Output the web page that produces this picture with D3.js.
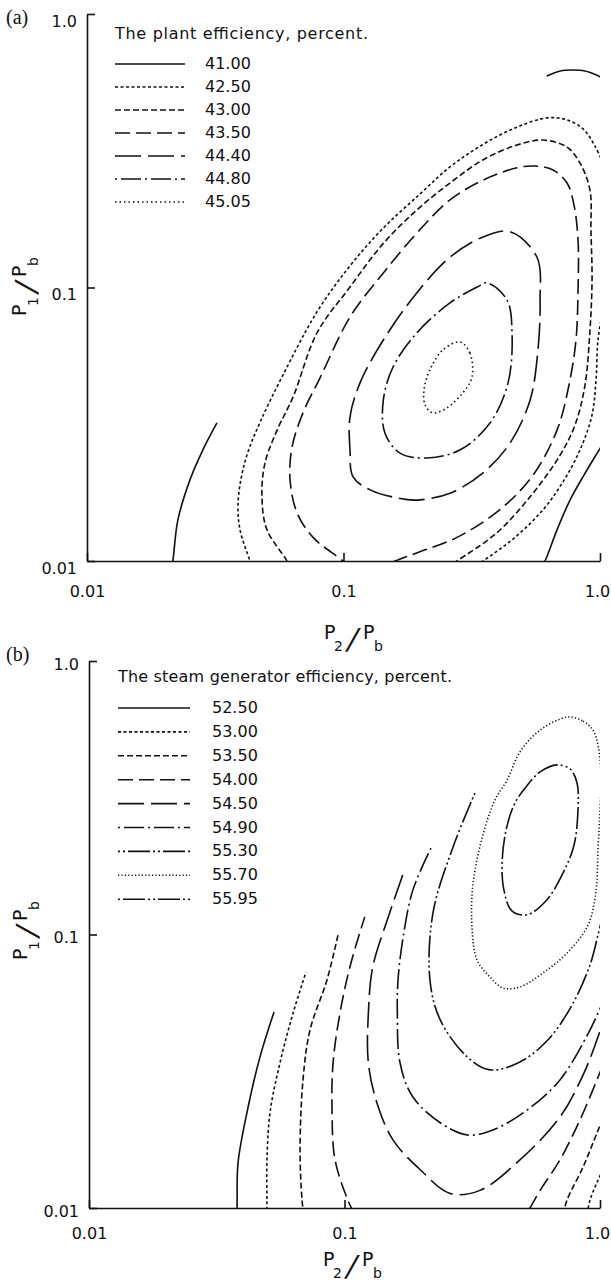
<!DOCTYPE html>
<html>
<head>
<meta charset="utf-8">
<script src="https://cdnjs.cloudflare.com/ajax/libs/d3/7.8.5/d3.min.js"></script>
<style>
  body { margin: 0; background: #fff; }
  svg { display: block; }
  text { font-family: "DejaVu Sans", sans-serif; fill: #111; }
  .contour { fill: none; stroke: #111; stroke-width: 1.6; }
  .axis path, .axis line { stroke: #111; stroke-width: 1.6; }
  .tag { font-family: "Liberation Serif", serif; font-size: 20px; }
</style>
</head>
<body>
<div id="chart"></div>
<script>
// ticks, same on both axes of both panels
var tickValues = [0.01, 0.1, 1.0]
var tickLabels = ['0.01', '0.1', '1.0']

// (a) plant efficiency levels, percent
var plantLevels = ['41.00', '42.50', '43.00', '43.50', '44.40', '44.80', '45.05']
// (b) steam generator efficiency levels, percent
var steamLevels = ['52.50', '53.00', '53.50', '54.00', '54.50', '54.90', '55.30', '55.70', '55.95']

// contour lines, points are [P2/Pb, P1/Pb]
var plant4100a = [[0.0212,0.0093],[0.0216,0.01],[0.0226,0.0141],[0.0252,0.0198],[0.0283,0.0255],[0.0321,0.032]]
var plant4100b = [[0.583,0.0093],[0.61,0.01],[0.68,0.013],[0.764,0.0167],[0.866,0.0206],[0.98,0.025],[1.03,0.027]]
var plant4100c = [[0.62,0.593],[0.70,0.619],[0.78,0.624],[0.874,0.619],[0.973,0.597],[1.03,0.58]]
var plant4250a = [[0.0444,0.0093],[0.0432,0.01],[0.0395,0.013],[0.0388,0.016],[0.0399,0.0201],[0.0424,0.025],[0.0473,0.0322],[0.0581,0.0479],[0.0788,0.0814],[0.106,0.120],[0.143,0.165],[0.199,0.220],[0.260,0.276],[0.347,0.332],[0.466,0.383],[0.622,0.417],[0.744,0.410],[0.859,0.380],[0.956,0.329],[1.055,0.269]]
var plant4250b = [[1.027,0.0827],[0.982,0.0643],[0.965,0.0459],[0.931,0.0342],[0.836,0.0255],[0.718,0.0195],[0.600,0.0154],[0.466,0.0122],[0.350,0.01],[0.311,0.0093]]
var plant4300 = [[0.0619,0.0093],[0.0602,0.01],[0.0503,0.013],[0.0481,0.0171],[0.0494,0.0228],[0.0551,0.0301],[0.0636,0.0398],[0.0788,0.0682],[0.106,0.1004],[0.143,0.145],[0.193,0.192],[0.260,0.241],[0.350,0.293],[0.475,0.332],[0.600,0.346],[0.744,0.326],[0.836,0.285],[0.914,0.227],[0.922,0.162],[0.931,0.107],[0.914,0.0699],[0.874,0.044],[0.799,0.0314],[0.699,0.0244],[0.548,0.0177],[0.397,0.0127],[0.277,0.01],[0.249,0.0093]]
var plant4350 = [[0.108,0.0093],[0.0996,0.01],[0.0761,0.0122],[0.0659,0.015],[0.0619,0.0198],[0.063,0.0261],[0.0695,0.0348],[0.081,0.0467],[0.106,0.078],[0.143,0.113],[0.193,0.158],[0.260,0.209],[0.350,0.247],[0.475,0.274],[0.558,0.278],[0.656,0.269],[0.744,0.241],[0.792,0.200],[0.821,0.149],[0.821,0.0979],[0.806,0.0643],[0.757,0.044],[0.680,0.0301],[0.548,0.0206],[0.407,0.0154],[0.277,0.0122],[0.193,0.0107],[0.159,0.01],[0.139,0.0094]]
var plant4440 = [[0.446,0.160],[0.568,0.129],[0.584,0.090],[0.573,0.0591],[0.534,0.0388],[0.446,0.027],[0.350,0.021],[0.260,0.0177],[0.193,0.0167],[0.162,0.017],[0.127,0.0182],[0.109,0.0203],[0.106,0.0255],[0.106,0.0336],[0.116,0.0448],[0.143,0.0643],[0.193,0.0955],[0.260,0.129],[0.350,0.153]]
var plant4480 = [[0.363,0.104],[0.434,0.09],[0.454,0.0682],[0.438,0.0448],[0.373,0.032],[0.285,0.0255],[0.212,0.0238],[0.166,0.0248],[0.145,0.0294],[0.143,0.0388],[0.156,0.0512],[0.193,0.0682],[0.260,0.0878],[0.332,0.1004]]
var plant4505 = [[0.285,0.0632],[0.311,0.0576],[0.317,0.0471],[0.292,0.0412],[0.253,0.0363],[0.223,0.0348],[0.208,0.0372],[0.206,0.0422],[0.217,0.0499],[0.244,0.0591]]

var steam5250 = [[0.038,0.0094],[0.038,0.0107],[0.0383,0.0146],[0.0415,0.0223],[0.0467,0.0357],[0.053,0.0521]]
var steam5300a = [[0.0497,0.0094],[0.0497,0.0107],[0.0497,0.0146],[0.0511,0.0223],[0.0559,0.0339],[0.0629,0.0516],[0.0707,0.0729]]
var steam5300b = [[1.027,0.0138],[0.973,0.0124],[0.914,0.0107],[0.889,0.0094]]
var steam5350a = [[0.0694,0.0094],[0.0682,0.0107],[0.067,0.0163],[0.0688,0.0294],[0.0733,0.0448],[0.0854,0.0682],[0.0943,0.0996]]
var steam5350b = [[1.027,0.0213],[0.973,0.0188],[0.858,0.0141],[0.743,0.0107],[0.717,0.0094]]
var steam5400a = [[0.110,0.0094],[0.103,0.0107],[0.0918,0.015],[0.0894,0.0223],[0.0902,0.0339],[0.096,0.0516],[0.105,0.0761],[0.120,0.116]]
var steam5400b = [[1.027,0.0333],[0.973,0.0294],[0.835,0.021],[0.697,0.015],[0.583,0.0116],[0.532,0.01],[0.509,0.0094]]
var steam5450 = [[0.169,0.165],[0.147,0.113],[0.129,0.0761],[0.124,0.0516],[0.124,0.0339],[0.134,0.0242],[0.155,0.0177],[0.198,0.0138],[0.259,0.0113],[0.339,0.0116],[0.486,0.015],[0.697,0.0215],[0.858,0.0306],[0.973,0.0412],[1.027,0.0479]]
var steam5490 = [[0.218,0.207],[0.185,0.145],[0.169,0.0955],[0.162,0.0682],[0.161,0.0516],[0.165,0.0339],[0.185,0.0255],[0.237,0.0205],[0.302,0.0185],[0.381,0.0193],[0.518,0.0228],[0.697,0.0294],[0.914,0.0448],[1.027,0.0567]]
var steam5530 = [[0.324,0.329],[0.266,0.209],[0.222,0.120],[0.216,0.0682],[0.237,0.0487],[0.302,0.0357],[0.371,0.032],[0.486,0.0342],[0.626,0.0412],[0.777,0.0552],[0.914,0.0774],[0.982,0.0996],[1.027,0.118]]
var steam5570 = [[0.750,0.624],[0.858,0.603],[0.939,0.559],[0.982,0.493],[1.009,0.383],[1.000,0.285],[0.982,0.204],[0.965,0.145],[0.897,0.108],[0.743,0.0856],[0.598,0.0723],[0.486,0.0643],[0.417,0.0637],[0.371,0.0699],[0.330,0.0807],[0.316,0.104],[0.318,0.152],[0.348,0.231],[0.388,0.310],[0.433,0.367],[0.486,0.465],[0.583,0.559]]
var steam5595 = [[0.679,0.417],[0.763,0.403],[0.813,0.358],[0.820,0.285],[0.791,0.212],[0.717,0.168],[0.620,0.134],[0.518,0.118],[0.452,0.122],[0.421,0.145],[0.414,0.184],[0.429,0.241],[0.461,0.298],[0.509,0.343],[0.583,0.393]]

// line styles
var dashStyle = {
  solid: null,
  fine: '3,2.5',
  medium: '6,3',
  long: '15,6',
  longer: '26,7',
  dotDash: '2,4,20,4',
  dotted: '1.5,3',
  dotDotDash: '2,3,2,3,22,3',
  fineDot: '1.2,2.2',
  dotDashDotDot: '2,3,22,3,2,3,2,3,22,3'
}
var plantStyles = ['solid', 'fine', 'medium', 'long', 'longer', 'dotDash', 'dotted']
var steamStyles = ['solid', 'fine', 'medium', 'long', 'longer', 'dotDash', 'dotDotDash', 'fineDot', 'dotDashDotDot']

var plantLines = [
  { level: '41.00', pts: plant4100a }, { level: '41.00', pts: plant4100b }, { level: '41.00', pts: plant4100c },
  { level: '42.50', pts: plant4250a }, { level: '42.50', pts: plant4250b },
  { level: '43.00', pts: plant4300 }, { level: '43.50', pts: plant4350 },
  { level: '44.40', pts: plant4440, closed: true }, { level: '44.80', pts: plant4480, closed: true },
  { level: '45.05', pts: plant4505, closed: true }
]
var steamLines = [
  { level: '52.50', pts: steam5250 },
  { level: '53.00', pts: steam5300a }, { level: '53.00', pts: steam5300b },
  { level: '53.50', pts: steam5350a }, { level: '53.50', pts: steam5350b },
  { level: '54.00', pts: steam5400a }, { level: '54.00', pts: steam5400b },
  { level: '54.50', pts: steam5450 }, { level: '54.90', pts: steam5490 }, { level: '55.30', pts: steam5530 },
  { level: '55.70', pts: steam5570, closed: true }, { level: '55.95', pts: steam5595, closed: true }
]

// layout of the two panels
var panels = [
  { id: 'a', tag: '(a)', tagY: 24, left: 87, right: 600, top: 14, bottom: 561,
    title: 'The plant efficiency, percent.', titleLen: 253, titleY: 39,
    legX: 115, legLen: 70, valX: 205, rowY: 64, rowStep: 23,
    levels: plantLevels, styles: plantStyles, lines: plantLines,
    xPad: 25, yShift: 7, xLab: [353, 639], yLab: [26, 287] },
  { id: 'b', tag: '(b)', tagY: 661, left: 89, right: 600, top: 661, bottom: 1208,
    title: 'The steam generator efficiency, percent.', titleLen: 334, titleY: 682,
    legX: 118, legLen: 72, valX: 212, rowY: 708, rowStep: 23.9,
    levels: steamLevels, styles: steamStyles, lines: steamLines,
    xPad: 20, yShift: 3, xLab: [352, 1266], yLab: [27, 931] }
]

var svg = d3.select('#chart').append('svg')
  .attr('width', 611)
  .attr('height', 1287)

svg.append('rect').attr('width', 611).attr('height', 1287).attr('fill', '#fff')

// P with a subscript, a long slash, P with subscript b
function ratioLabel(g, sub) {
  g.append('text').attr('x', -29).attr('y', 0).style('font-size', '19px').text('P')
  g.append('text').attr('x', -19).attr('y', 12).style('font-size', '14px').text(sub)
  g.append('text').attr('x', 0).attr('y', 10).attr('text-anchor', 'middle')
    .attr('transform', 'skewX(-14)').style('font-size', '29px').text('/')
  g.append('text').attr('x', 10).attr('y', 0).style('font-size', '19px').text('P')
  g.append('text').attr('x', 21).attr('y', 12).style('font-size', '14px').text('b')
}

panels.forEach(function (p) {
  var x = d3.scaleLog().domain([0.01, 1]).range([p.left, p.right])
  var y = d3.scaleLog().domain([0.01, 1]).range([p.bottom, p.top])
  var g = svg.append('g').attr('class', 'panel-' + p.id)

  // clip to the plotting area
  g.append('clipPath').attr('id', 'clip-' + p.id)
    .append('rect')
    .attr('x', p.left).attr('y', p.top)
    .attr('width', p.right - p.left).attr('height', p.bottom - p.top)

  var line = d3.line()
    .x(function (d) { return x(d[0]) })
    .y(function (d) { return y(d[1]) })

  var contours = g.append('g').attr('clip-path', 'url(#clip-' + p.id + ')')
  contours.selectAll('.contour')
    .data(p.lines)
    .enter().append('path')
    .attr('class', 'contour')
    .attr('d', function (d) {
      return line.curve(d.closed ? d3.curveCatmullRomClosed : d3.curveCatmullRom)(d.pts)
    })
    .attr('stroke-dasharray', function (d) {
      return dashStyle[p.styles[p.levels.indexOf(d.level)]]
    })

  // axes, ticks point inward
  var xAxis = d3.axisBottom(x).tickValues(tickValues)
    .tickFormat(function (d, i) { return tickLabels[i] })
    .tickSizeInner(-8).tickSizeOuter(0).tickPadding(p.xPad)
  var yAxis = d3.axisLeft(y).tickValues(tickValues)
    .tickFormat(function (d, i) { return tickLabels[i] })
    .tickSizeInner(-8).tickSizeOuter(0).tickPadding(10)

  var gx = g.append('g').attr('class', 'axis')
    .attr('transform', 'translate(0,' + p.bottom + ')')
    .call(xAxis)
  var gy = g.append('g').attr('class', 'axis')
    .attr('transform', 'translate(' + p.left + ',0)')
    .call(yAxis)
  g.selectAll('.axis').attr('font-family', null).attr('font-size', null)
  g.selectAll('.axis text').style('font-size', '16px').attr('fill', '#111')
  gy.selectAll('text').attr('y', p.yShift)
  // keep the last x label inside the page
  gx.selectAll('text').filter(function (d) { return d === 1 }).attr('dx', -3)

  // axis titles
  ratioLabel(g.append('g').attr('transform', 'translate(' + p.xLab[0] + ',' + p.xLab[1] + ')'), '2')
  ratioLabel(g.append('g').attr('transform', 'translate(' + p.yLab[0] + ',' + p.yLab[1] + ') rotate(-90)'), '1')

  g.append('text').attr('class', 'tag').attr('x', 6).attr('y', p.tagY).text(p.tag)

  // legend
  g.append('text')
    .attr('x', p.legX).attr('y', p.titleY)
    .attr('textLength', p.titleLen).attr('lengthAdjust', 'spacing')
    .style('font-size', '16px')
    .text(p.title)

  var rows = g.selectAll('.leg-' + p.id)
    .data(p.levels)
    .enter().append('g')
    .attr('transform', function (d, i) { return 'translate(0,' + (p.rowY + i * p.rowStep) + ')' })
  rows.append('line')
    .attr('class', 'contour')
    .attr('x1', p.legX).attr('x2', p.legX + p.legLen)
    .attr('y1', 0).attr('y2', 0)
    .attr('stroke-dasharray', function (d, i) { return dashStyle[p.styles[i]] })
  rows.append('text')
    .attr('x', p.valX).attr('y', 5)
    .style('font-size', '16px')
    .text(function (d) { return d })
})
</script>
</body>
</html>
